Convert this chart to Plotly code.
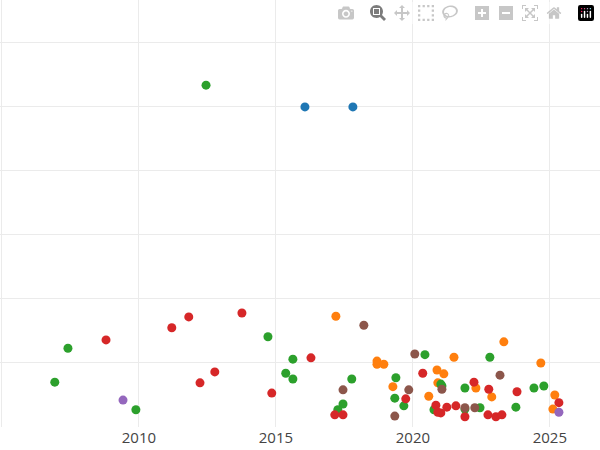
import plotly.graph_objects as go

green_x = [2007.41,2006.93,2009.89,2012.45,2014.71,2015.62,2015.36,2015.62,2017.77,2017.45,2017.26,2019.38,2019.34,2019.67,2020.44,2021.02,2021.06,2020.77,2021.90,2022.81,2022.45,2023.76,2024.42,2024.78,2021.90]
green_y = [1.23,0.70,0.27,5.34,1.41,1.06,0.84,0.75,0.75,0.36,0.27,0.77,0.45,0.33,1.13,0.67,0.64,0.27,0.61,1.09,0.30,0.31,0.61,0.64,0.28]
blue_x = [2016.06,2017.81]
blue_y = [5.0,5.0]
red_x = [2008.80,2011.20,2011.82,2013.76,2012.23,2012.77,2014.85,2016.28,2017.15,2017.45,2019.74,2020.36,2020.84,2021.02,2021.24,2021.57,2021.90,2022.23,2022.77,2022.74,2023.03,2023.25,2023.80,2025.33,2020.91]
red_y = [1.36,1.55,1.72,1.78,0.69,0.86,0.53,1.08,0.19,0.19,0.44,0.84,0.34,0.22,0.31,0.33,0.16,0.70,0.59,0.19,0.16,0.19,0.55,0.38,0.23]
orange_x = [2017.19,2018.69,2018.69,2018.94,2019.27,2020.58,2020.88,2021.13,2021.50,2020.91,2022.30,2022.88,2023.32,2024.67,2025.18,2025.11]
orange_y = [1.73,1.03,0.98,0.98,0.63,0.48,0.89,0.83,1.09,0.69,0.61,0.47,1.33,1.0,0.5,0.28]
brown_x = [2017.45,2018.21,2019.34,2019.85,2020.07,2021.06,2021.90,2022.26,2023.18]
brown_y = [0.58,1.59,0.17,0.58,1.14,0.59,0.30,0.30,0.81]
purple_x = [2009.42,2025.33]
purple_y = [0.42,0.23]

fig = go.Figure()
for xs, ys, c in [(blue_x,blue_y,"#1f77b4"),(orange_x,orange_y,"#ff7f0e"),(green_x,green_y,"#2ca02c"),
                  (red_x,red_y,"#d62728"),(purple_x,purple_y,"#9467bd"),(brown_x,brown_y,"#8c564b")]:
    fig.add_trace(go.Scatter(x=xs, y=ys, mode="markers", marker=dict(color=c, size=9)))

fig.update_layout(
    width=600, height=450, showlegend=False,
    paper_bgcolor="white", plot_bgcolor="white",
    margin=dict(l=0, r=0, t=0, b=23),
    xaxis=dict(range=[2004.93, 2026.83], tickvals=[2005,2010,2015,2020,2025], ticktext=["","2010","2015","2020","2025"],
               showline=False, zeroline=False, gridcolor="#ebebeb", tickfont=dict(size=15, color="#444")),
    yaxis=dict(range=[0, 6.67], dtick=1, showticklabels=False, zeroline=False, gridcolor="#ebebeb"),
)
fig.write_html("out.html", post_script="document.body.style.margin='0';")
